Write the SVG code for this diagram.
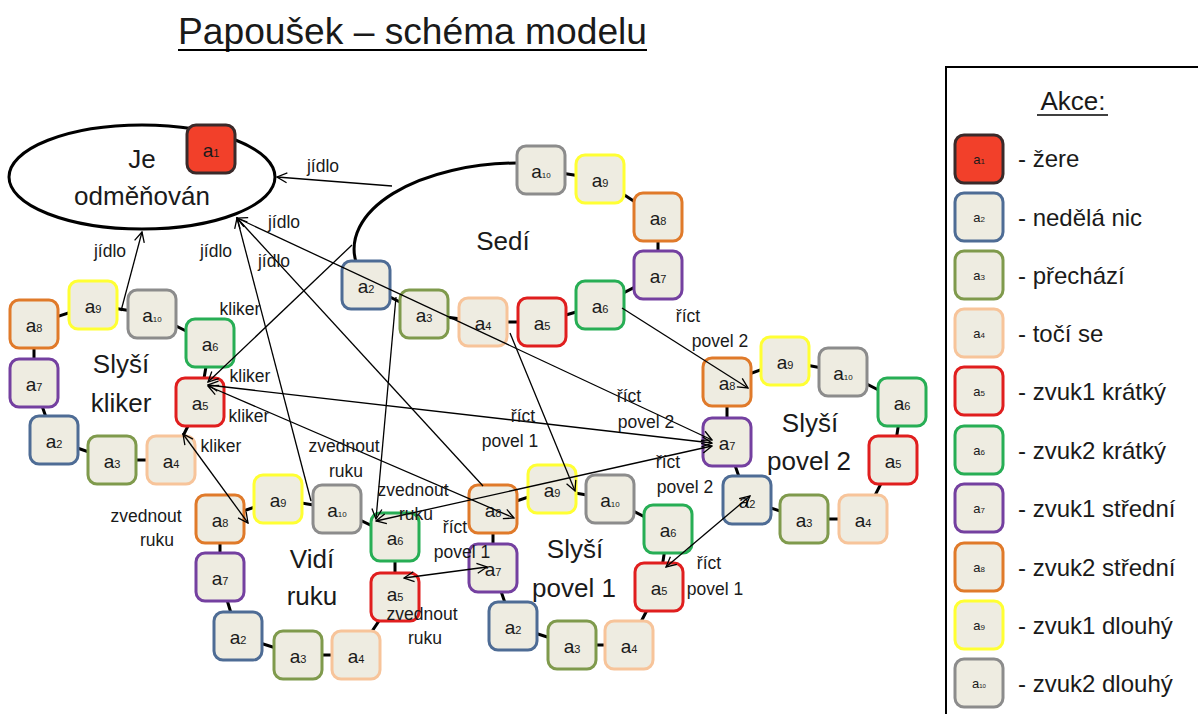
<svg xmlns="http://www.w3.org/2000/svg" width="1198" height="714" viewBox="0 0 1198 714">
  <style>
    text { font-family: "Liberation Sans", Arial, sans-serif; fill: #1a1a1a; }
    .box { fill: #EEECE1; stroke-width: 3; }
    .c1 { fill: #F2402A; stroke: #3A2A2A; }
    .c2 { stroke: #4E6C95; }
    .c3 { stroke: #7F9A4C; }
    .c4 { stroke: #F7C49A; }
    .c5 { stroke: #E01E1E; }
    .c6 { stroke: #27AE55; }
    .c7 { stroke: #7440A0; }
    .c8 { stroke: #E07A2A; }
    .c9 { stroke: #FFFF33; }
    .c10 { stroke: #8C8C8C; }
    .nl { font-size: 19px; text-anchor: middle; }
    .nl .s { font-size: 11px; }
    .nl .t { font-size: 8px; }
    .ll { font-size: 13px; text-anchor: middle; }
    .ll .s { font-size: 8px; }
    .ll .t { font-size: 6px; }
    .ring { fill: none; stroke: #000; stroke-width: 3; }
    .state { font-size: 26px; text-anchor: middle; }
    .cl { font-size: 17.5px; text-anchor: middle; }
    .conn line { stroke: #000; stroke-width: 1.3; marker-end: url(#arr); }
    .conn line.both { marker-start: url(#arr); }
    .leg { font-size: 24px; }
  </style>
  <defs>
    <marker id="arr" viewBox="0 0 12 12" refX="11" refY="6" markerWidth="12" markerHeight="12" markerUnits="userSpaceOnUse" orient="auto-start-reverse">
      <path d="M1,1 L11,6 L1,11" fill="none" stroke="#000" stroke-width="1.3"/>
    </marker>
  </defs>

  <rect width="1198" height="714" fill="#fff"/>

  <!-- title -->
  <text x="178" y="44" font-size="37" textLength="469" lengthAdjust="spacingAndGlyphs">Papoušek – schéma modelu</text>
  <line x1="178" y1="50" x2="647" y2="50" stroke="#000" stroke-width="2"/>

  <!-- state outlines and ring links -->
  <g id="outlines">
    <ellipse cx="142" cy="177" rx="133" ry="52" fill="none" stroke="#000" stroke-width="3"/>
    <path d="M517,163 A165,86 0 0 0 356,262" fill="none" stroke="#000" stroke-width="3"/>
    <polyline class="ring" points="366,285 424,314 483,322 542,322 600,305 658,275 658,217 600,179 541,170"/>
    <polygon class="ring" points="54,440 112,460 171,460 200,402 210,343 152,314 93,305 34,324 34,383"/>
    <polygon class="ring" points="238,636 298,655 356,655 395,597 395,537 337,509 278,499 220,519 220,577"/>
    <polygon class="ring" points="513,626 572,645 629,645 659,587 668,529 610,499 552,489 493,509 493,568"/>
    <polygon class="ring" points="747,500 804,519 863,519 893,460 902,402 843,372 785,361 727,382 727,442"/>
  </g>

  <!-- Je odměňován -->
  <g id="je-odmenovan">
    <text class="state" x="142" y="168">Je</text>
    <text class="state" x="142" y="205">odměňován</text>
    <rect class="box c1" x="187" y="125" width="48" height="48" rx="9"/>
    <text class="nl" x="211" y="157">a<tspan class="s">1</tspan></text>
  </g>

  <!-- Sedí -->
  <g id="sedi">
    <text class="state" x="503" y="250">Sedí</text>
    <g id="sedi-a2"><rect class="box c2" x="342" y="261" width="48" height="48" rx="9"/><text class="nl" x="366" y="293">a<tspan class="s">2</tspan></text></g>
    <g id="sedi-a3"><rect class="box c3" x="400" y="290" width="48" height="48" rx="9"/><text class="nl" x="424" y="322">a<tspan class="s">3</tspan></text></g>
    <g id="sedi-a4"><rect class="box c4" x="459" y="298" width="48" height="48" rx="9"/><text class="nl" x="483" y="330">a<tspan class="s">4</tspan></text></g>
    <g id="sedi-a5"><rect class="box c5" x="518" y="298" width="48" height="48" rx="9"/><text class="nl" x="542" y="330">a<tspan class="s">5</tspan></text></g>
    <g id="sedi-a6"><rect class="box c6" x="576" y="281" width="48" height="48" rx="9"/><text class="nl" x="600" y="313">a<tspan class="s">6</tspan></text></g>
    <g id="sedi-a7"><rect class="box c7" x="634" y="251" width="48" height="48" rx="9"/><text class="nl" x="658" y="283">a<tspan class="s">7</tspan></text></g>
    <g id="sedi-a8"><rect class="box c8" x="634" y="193" width="48" height="48" rx="9"/><text class="nl" x="658" y="225">a<tspan class="s">8</tspan></text></g>
    <g id="sedi-a9"><rect class="box c9" x="576" y="155" width="48" height="48" rx="9"/><text class="nl" x="600" y="187">a<tspan class="s">9</tspan></text></g>
    <g id="sedi-a10"><rect class="box c10" x="517" y="146" width="48" height="48" rx="9"/><text class="nl" x="541" y="178">a<tspan class="t">10</tspan></text></g>
  </g>

  <!-- Slyší kliker -->
  <g id="slysi-kliker">
    <text class="state" x="121" y="373">Slyší</text>
    <text class="state" x="121" y="412">kliker</text>
    <g id="kl-a2"><rect class="box c2" x="30" y="416" width="48" height="48" rx="9"/><text class="nl" x="54" y="448">a<tspan class="s">2</tspan></text></g>
    <g id="kl-a3"><rect class="box c3" x="88" y="436" width="48" height="48" rx="9"/><text class="nl" x="112" y="468">a<tspan class="s">3</tspan></text></g>
    <g id="kl-a4"><rect class="box c4" x="147" y="436" width="48" height="48" rx="9"/><text class="nl" x="171" y="468">a<tspan class="s">4</tspan></text></g>
    <g id="kl-a5"><rect class="box c5" x="176" y="378" width="48" height="48" rx="9"/><text class="nl" x="200" y="410">a<tspan class="s">5</tspan></text></g>
    <g id="kl-a6"><rect class="box c6" x="186" y="319" width="48" height="48" rx="9"/><text class="nl" x="210" y="351">a<tspan class="s">6</tspan></text></g>
    <g id="kl-a7"><rect class="box c7" x="10" y="359" width="48" height="48" rx="9"/><text class="nl" x="34" y="391">a<tspan class="s">7</tspan></text></g>
    <g id="kl-a8"><rect class="box c8" x="10" y="300" width="48" height="48" rx="9"/><text class="nl" x="34" y="332">a<tspan class="s">8</tspan></text></g>
    <g id="kl-a9"><rect class="box c9" x="69" y="281" width="48" height="48" rx="9"/><text class="nl" x="93" y="313">a<tspan class="s">9</tspan></text></g>
    <g id="kl-a10"><rect class="box c10" x="128" y="290" width="48" height="48" rx="9"/><text class="nl" x="152" y="322">a<tspan class="t">10</tspan></text></g>
  </g>

  <!-- Vidí ruku -->
  <g id="vidi-ruku">
    <text class="state" x="312" y="568">Vidí</text>
    <text class="state" x="312" y="605">ruku</text>
    <g id="vr-a2"><rect class="box c2" x="214" y="612" width="48" height="48" rx="9"/><text class="nl" x="238" y="644">a<tspan class="s">2</tspan></text></g>
    <g id="vr-a3"><rect class="box c3" x="274" y="631" width="48" height="48" rx="9"/><text class="nl" x="298" y="663">a<tspan class="s">3</tspan></text></g>
    <g id="vr-a4"><rect class="box c4" x="332" y="631" width="48" height="48" rx="9"/><text class="nl" x="356" y="663">a<tspan class="s">4</tspan></text></g>
    <g id="vr-a5"><rect class="box c5" x="371" y="573" width="48" height="48" rx="9"/><text class="nl" x="395" y="601">a<tspan class="s">5</tspan></text></g>
    <g id="vr-a6"><rect class="box c6" x="371" y="513" width="48" height="48" rx="9"/><text class="nl" x="395" y="545">a<tspan class="s">6</tspan></text></g>
    <g id="vr-a7"><rect class="box c7" x="196" y="553" width="48" height="48" rx="9"/><text class="nl" x="220" y="585">a<tspan class="s">7</tspan></text></g>
    <g id="vr-a8"><rect class="box c8" x="196" y="495" width="48" height="48" rx="9"/><text class="nl" x="220" y="527">a<tspan class="s">8</tspan></text></g>
    <g id="vr-a9"><rect class="box c9" x="254" y="475" width="48" height="48" rx="9"/><text class="nl" x="278" y="507">a<tspan class="s">9</tspan></text></g>
    <g id="vr-a10"><rect class="box c10" x="313" y="485" width="48" height="48" rx="9"/><text class="nl" x="337" y="517">a<tspan class="t">10</tspan></text></g>
  </g>

  <!-- Slyší povel 1 -->
  <g id="slysi-povel-1">
    <text class="state" x="575" y="558">Slyší</text>
    <text class="state" x="574" y="597">povel 1</text>
    <g id="p1-a2"><rect class="box c2" x="489" y="602" width="48" height="48" rx="9"/><text class="nl" x="513" y="634">a<tspan class="s">2</tspan></text></g>
    <g id="p1-a3"><rect class="box c3" x="548" y="621" width="48" height="48" rx="9"/><text class="nl" x="572" y="653">a<tspan class="s">3</tspan></text></g>
    <g id="p1-a4"><rect class="box c4" x="605" y="621" width="48" height="48" rx="9"/><text class="nl" x="629" y="653">a<tspan class="s">4</tspan></text></g>
    <g id="p1-a5"><rect class="box c5" x="635" y="563" width="48" height="48" rx="9"/><text class="nl" x="659" y="595">a<tspan class="s">5</tspan></text></g>
    <g id="p1-a6"><rect class="box c6" x="644" y="505" width="48" height="48" rx="9"/><text class="nl" x="668" y="537">a<tspan class="s">6</tspan></text></g>
    <g id="p1-a7"><rect class="box c7" x="469" y="544" width="48" height="48" rx="9"/><text class="nl" x="493" y="576">a<tspan class="s">7</tspan></text></g>
    <g id="p1-a8"><rect class="box c8" x="469" y="485" width="48" height="48" rx="9"/><text class="nl" x="493" y="517">a<tspan class="s">8</tspan></text></g>
    <g id="p1-a9"><rect class="box c9" x="528" y="465" width="48" height="48" rx="9"/><text class="nl" x="552" y="497">a<tspan class="s">9</tspan></text></g>
    <g id="p1-a10"><rect class="box c10" x="586" y="475" width="48" height="48" rx="9"/><text class="nl" x="610" y="507">a<tspan class="t">10</tspan></text></g>
  </g>

  <!-- Slyší povel 2 -->
  <g id="slysi-povel-2">
    <text class="state" x="810" y="432">Slyší</text>
    <text class="state" x="809" y="470">povel 2</text>
    <g id="p2-a2"><rect class="box c2" x="723" y="476" width="48" height="48" rx="9"/><text class="nl" x="747" y="508">a<tspan class="s">2</tspan></text></g>
    <g id="p2-a3"><rect class="box c3" x="780" y="495" width="48" height="48" rx="9"/><text class="nl" x="804" y="527">a<tspan class="s">3</tspan></text></g>
    <g id="p2-a4"><rect class="box c4" x="839" y="495" width="48" height="48" rx="9"/><text class="nl" x="863" y="527">a<tspan class="s">4</tspan></text></g>
    <g id="p2-a5"><rect class="box c5" x="869" y="436" width="48" height="48" rx="9"/><text class="nl" x="893" y="468">a<tspan class="s">5</tspan></text></g>
    <g id="p2-a6"><rect class="box c6" x="878" y="378" width="48" height="48" rx="9"/><text class="nl" x="902" y="410">a<tspan class="s">6</tspan></text></g>
    <g id="p2-a7"><rect class="box c7" x="703" y="418" width="48" height="48" rx="9"/><text class="nl" x="727" y="450">a<tspan class="s">7</tspan></text></g>
    <g id="p2-a8"><rect class="box c8" x="703" y="358" width="48" height="48" rx="9"/><text class="nl" x="727" y="390">a<tspan class="s">8</tspan></text></g>
    <g id="p2-a9"><rect class="box c9" x="761" y="337" width="48" height="48" rx="9"/><text class="nl" x="785" y="369">a<tspan class="s">9</tspan></text></g>
    <g id="p2-a10"><rect class="box c10" x="819" y="348" width="48" height="48" rx="9"/><text class="nl" x="843" y="380">a<tspan class="t">10</tspan></text></g>
  </g>

  <!-- transitions -->
  <g id="connectors" class="conn">
    <line x1="392" y1="186" x2="277" y2="177"/>
    <line x1="121" y1="311" x2="142" y2="232"/>
    <line x1="311" y1="501" x2="237" y2="218"/>
    <line x1="483" y1="486" x2="237" y2="218"/>
    <line class="both" x1="712" y1="440" x2="237" y2="218"/>
    <line x1="352" y1="245" x2="208" y2="382"/>
    <line class="both" x1="712" y1="443" x2="208" y2="385"/>
    <line class="both" x1="208" y1="386" x2="514" y2="518"/>
    <line class="both" x1="183" y1="434" x2="248" y2="523"/>
    <line x1="396" y1="297" x2="376" y2="519"/>
    <line class="both" x1="712" y1="446" x2="376" y2="521"/>
    <line class="both" x1="404" y1="578" x2="487" y2="567"/>
    <line x1="510" y1="333" x2="575" y2="491"/>
    <line x1="622" y1="308" x2="748" y2="388"/>
    <line class="both" x1="666" y1="567" x2="750" y2="496"/>
  </g>

  <!-- transition labels -->
  <g id="connector-labels">
    <text class="cl" x="323" y="172">jídlo</text>
    <text class="cl" x="110" y="257">jídlo</text>
    <text class="cl" x="216" y="257">jídlo</text>
    <text class="cl" x="284" y="228">jídlo</text>
    <text class="cl" x="274" y="267">jídlo</text>
    <text class="cl" x="240" y="315">kliker</text>
    <text class="cl" x="250" y="382">kliker</text>
    <text class="cl" x="249" y="422">kliker</text>
    <text class="cl" x="221" y="452">kliker</text>
    <text class="cl" x="146" y="522">zvednout</text>
    <text class="cl" x="157" y="546">ruku</text>
    <text class="cl" x="344" y="452">zvednout</text>
    <text class="cl" x="346" y="477">ruku</text>
    <text class="cl" x="413" y="496">zvednout</text>
    <text class="cl" x="416" y="520">ruku</text>
    <text class="cl" x="455" y="533">říct</text>
    <text class="cl" x="462" y="558">povel 1</text>
    <text class="cl" x="422" y="620">zvednout</text>
    <text class="cl" x="425" y="644">ruku</text>
    <text class="cl" x="523" y="422">říct</text>
    <text class="cl" x="510" y="447">povel 1</text>
    <text class="cl" x="629" y="402">říct</text>
    <text class="cl" x="646" y="428">povel 2</text>
    <text class="cl" x="688" y="322">říct</text>
    <text class="cl" x="720" y="347">povel 2</text>
    <text class="cl" x="668" y="468">říct</text>
    <text class="cl" x="685" y="493">povel 2</text>
    <text class="cl" x="709" y="569">říct</text>
    <text class="cl" x="715" y="595">povel 1</text>
  </g>

  <!-- legend -->
  <g id="legend">
    <rect x="946" y="67" width="270" height="670" fill="none" stroke="#000" stroke-width="2"/>
    <text x="1073" y="110" font-size="26" text-anchor="middle">Akce:</text>
    <line x1="1037" y1="115" x2="1108" y2="115" stroke="#000" stroke-width="1.5"/>
    <g id="leg-a1"><rect class="box c1" x="955" y="135" width="48" height="48" rx="9"/><text class="ll" x="979" y="164">a<tspan class="s">1</tspan></text><text class="leg" x="1018" y="167">- žere</text></g>
    <g id="leg-a2"><rect class="box c2" x="955" y="193" width="48" height="48" rx="9"/><text class="ll" x="979" y="222">a<tspan class="s">2</tspan></text><text class="leg" x="1018" y="226">- nedělá nic</text></g>
    <g id="leg-a3"><rect class="box c3" x="955" y="251" width="48" height="48" rx="9"/><text class="ll" x="979" y="280">a<tspan class="s">3</tspan></text><text class="leg" x="1018" y="284">- přechází</text></g>
    <g id="leg-a4"><rect class="box c4" x="955" y="309" width="48" height="48" rx="9"/><text class="ll" x="979" y="338">a<tspan class="s">4</tspan></text><text class="leg" x="1018" y="342">- točí se</text></g>
    <g id="leg-a5"><rect class="box c5" x="955" y="367" width="48" height="48" rx="9"/><text class="ll" x="979" y="396">a<tspan class="s">5</tspan></text><text class="leg" x="1018" y="400">- zvuk1  krátký</text></g>
    <g id="leg-a6"><rect class="box c6" x="955" y="426" width="48" height="48" rx="9"/><text class="ll" x="979" y="455">a<tspan class="s">6</tspan></text><text class="leg" x="1018" y="459">- zvuk2  krátký</text></g>
    <g id="leg-a7"><rect class="box c7" x="955" y="484" width="48" height="48" rx="9"/><text class="ll" x="979" y="513">a<tspan class="s">7</tspan></text><text class="leg" x="1018" y="517">- zvuk1  střední</text></g>
    <g id="leg-a8"><rect class="box c8" x="955" y="543" width="48" height="48" rx="9"/><text class="ll" x="979" y="572">a<tspan class="s">8</tspan></text><text class="leg" x="1018" y="576">- zvuk2  střední</text></g>
    <g id="leg-a9"><rect class="box c9" x="955" y="601" width="48" height="48" rx="9"/><text class="ll" x="979" y="630">a<tspan class="s">9</tspan></text><text class="leg" x="1018" y="634">- zvuk1  dlouhý</text></g>
    <g id="leg-a10"><rect class="box c10" x="955" y="659" width="48" height="48" rx="9"/><text class="ll" x="979" y="688">a<tspan class="t">10</tspan></text><text class="leg" x="1018" y="692">- zvuk2  dlouhý</text></g>
  </g>
</svg>
